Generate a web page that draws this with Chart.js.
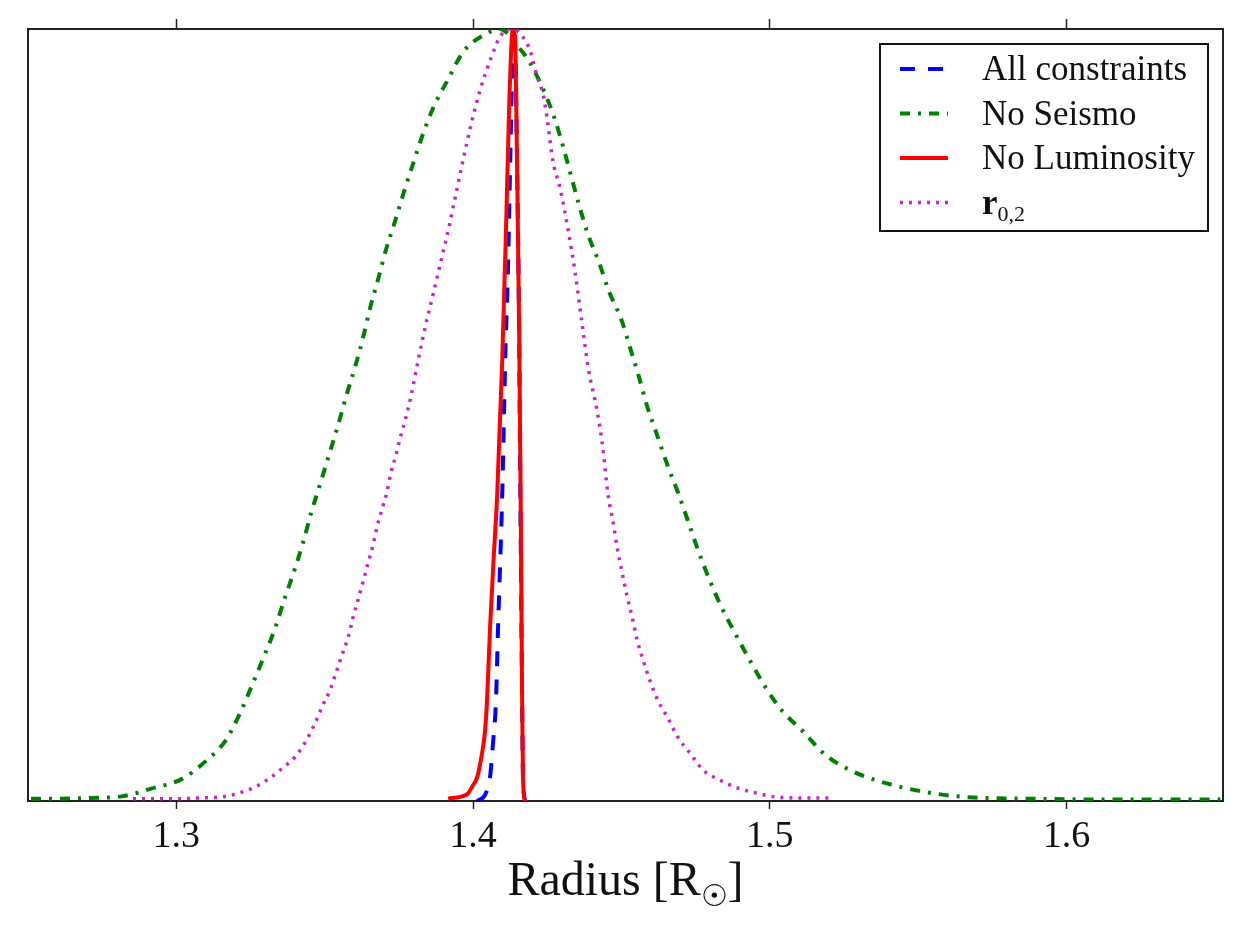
<!DOCTYPE html>
<html>
<head>
<meta charset="utf-8">
<script src="https://cdn.jsdelivr.net/npm/chart.js@4.4.1/dist/chart.umd.min.js"></script>
<style>
  html, body { margin: 0; padding: 0; background: #fff; }
  #wrap { width: 1250px; height: 938px; position: relative; }
</style>
</head>
<body>
<div id="wrap"><canvas id="radiusChart"></canvas></div>
<script>
// values (radius in solar radii, normalised density)
var seriesLabels = ["All constraints", "No Seismo", "No Luminosity", "r_{0,2}"]
var xTicks = [1.3, 1.4, 1.5, 1.6]
var xMin = 1.25
var xMax = 1.6527
var xTitle = "Radius [R_{\u2609}]"

var allR = [1.4013, 1.4023, 1.4040, 1.4057, 1.4067, 1.4077, 1.4084, 1.4098, 1.4108, 1.4118, 1.4125, 1.4131, 1.4135, 1.4138, 1.4141, 1.4148, 1.4155, 1.4158, 1.4165, 1.4168, 1.4175]
var allP = [0.0, 0.002, 0.008, 0.031, 0.075, 0.130, 0.224, 0.396, 0.570, 0.700, 0.829, 0.937, 0.976, 1.0, 0.990, 0.829, 0.613, 0.450, 0.137, 0.030, 0.0]

var seismoR = [1.2510, 1.2611, 1.2712, 1.2817, 1.2915, 1.3016, 1.3097, 1.3167, 1.3215, 1.3255, 1.3295, 1.3332, 1.3363, 1.3397, 1.3427, 1.3454, 1.3484, 1.3515, 1.3545, 1.3572, 1.3602, 1.3629, 1.3653, 1.3680, 1.3707, 1.3737, 1.3767, 1.3798, 1.3831, 1.3868, 1.3916, 1.3966, 1.4050, 1.4090,
  1.4158, 1.4189, 1.4236, 1.4273, 1.4303, 1.4330, 1.4357, 1.4387, 1.4424, 1.4458, 1.4499, 1.4529, 1.4559, 1.4586, 1.4620, 1.4654, 1.4691, 1.4724, 1.4758, 1.4795, 1.4836, 1.4883, 1.4933, 1.4984, 1.5041, 1.5112, 1.5186, 1.5270, 1.5365, 1.5466, 1.5567, 1.5668, 1.5877, 1.6113, 1.6518]
var seismoP = [0.003, 0.003, 0.004, 0.006, 0.016, 0.028, 0.051, 0.079, 0.114, 0.150, 0.187, 0.223, 0.260, 0.298, 0.335, 0.373, 0.410, 0.449, 0.487, 0.524, 0.562, 0.600, 0.639, 0.676, 0.715, 0.751, 0.789, 0.826, 0.864, 0.900, 0.935, 0.970, 0.995, 1.0,
  0.974, 0.958, 0.922, 0.886, 0.848, 0.810, 0.772, 0.734, 0.698, 0.660, 0.624, 0.587, 0.549, 0.512, 0.474, 0.436, 0.399, 0.363, 0.325, 0.288, 0.252, 0.217, 0.182, 0.148, 0.117, 0.090, 0.060, 0.040, 0.026, 0.016, 0.009, 0.005, 0.003, 0.002, 0.002]

var lumR = [1.3916, 1.3963, 1.3983, 1.3999, 1.4013, 1.4027, 1.4040, 1.4047, 1.4057, 1.4070, 1.4081, 1.4098, 1.4111, 1.4121, 1.4131, 1.4135, 1.4141, 1.4148, 1.4155, 1.4160, 1.4165, 1.4168, 1.4175]
var lumP = [0.003, 0.006, 0.010, 0.020, 0.030, 0.055, 0.090, 0.131, 0.224, 0.320, 0.396, 0.570, 0.742, 0.894, 0.992, 1.0, 0.990, 0.829, 0.613, 0.400, 0.137, 0.030, 0.0]

var r02R = [1.2854, 1.3006, 1.3083, 1.3147, 1.3208, 1.3265, 1.3316, 1.3359, 1.3400, 1.3434, 1.3464, 1.3491, 1.3518, 1.3538, 1.3558, 1.3579, 1.3595, 1.3612, 1.3629, 1.3646, 1.3663, 1.3676, 1.3693, 1.3710, 1.3723, 1.3740, 1.3754, 1.3771, 1.3791, 1.3814, 1.3838, 1.3865, 1.3892, 1.3919, 1.3943, 1.3966, 1.3993, 1.4023, 1.4061, 1.4094, 1.4135,
  1.4165, 1.4192, 1.4216, 1.4236, 1.4249, 1.4269, 1.4293, 1.4320, 1.4344, 1.4367, 1.4388, 1.4418, 1.4435, 1.4455, 1.4472, 1.4485, 1.4502, 1.4519, 1.4536, 1.4553, 1.4573, 1.4596, 1.4623, 1.4657, 1.4691, 1.4731, 1.4775, 1.4832, 1.4890, 1.4957, 1.5024, 1.5102, 1.5210]
var r02P = [0.003, 0.003, 0.004, 0.005, 0.010, 0.018, 0.030, 0.043, 0.057, 0.076, 0.098, 0.122, 0.144, 0.166, 0.189, 0.212, 0.237, 0.260, 0.284, 0.308, 0.332, 0.355, 0.378, 0.401, 0.425, 0.448, 0.470, 0.493, 0.525, 0.569, 0.613, 0.656, 0.700, 0.744, 0.788, 0.830, 0.876, 0.920, 0.963, 0.992, 1.0,
  0.991, 0.972, 0.938, 0.915, 0.885, 0.829, 0.794, 0.740, 0.684, 0.619, 0.561, 0.505, 0.464, 0.396, 0.361, 0.329, 0.296, 0.265, 0.238, 0.208, 0.182, 0.156, 0.130, 0.107, 0.082, 0.062, 0.040, 0.027, 0.017, 0.010, 0.005, 0.004, 0.004]

var serifFont = '"Liberation Serif", "DejaVu Serif", "DejaVu Sans", serif'

function toPoints(xs, ys) {
  var pts = []
  for (var i = 0; i < xs.length; i++) {
    pts.push({ x: xs[i], y: ys[i] })
  }
  return pts
}

// "a_{b}c" -> pieces with a subscript flag
function splitSub(text) {
  var parts = []
  var re = /_\{([^}]*)\}/g
  var last = 0
  var m
  while ((m = re.exec(text)) !== null) {
    if (m.index > last) parts.push({ t: text.slice(last, m.index), sub: false })
    parts.push({ t: m[1], sub: true })
    last = re.lastIndex
  }
  if (last < text.length) parts.push({ t: text.slice(last), sub: false })
  return parts
}

// math-style labels (with a subscript) get a bold main symbol, like the original
function drawRichText(ctx, text, x, y, size, align, boldMath) {
  var parts = splitSub(text)
  var hasSub = parts.some(function (p) { return p.sub })
  var subSize = Math.round(size * 0.62)
  var total = 0
  parts.forEach(function (p) {
    p.font = (p.sub ? subSize + "px " : (boldMath && hasSub ? "bold " : "") + size + "px ") + serifFont
    ctx.font = p.font
    p.w = ctx.measureText(p.t).width
    total += p.w
  })
  var cx = align === "center" ? x - total / 2 : x
  ctx.textAlign = "left"
  ctx.textBaseline = "alphabetic"
  parts.forEach(function (p) {
    ctx.font = p.font
    ctx.fillText(p.t, cx, p.sub ? y + size * 0.22 : y)
    cx += p.w
  })
}

var legendBox = {
  id: "legendBox",
  afterDraw: function (chart) {
    var ctx = chart.ctx
    var area = chart.chartArea
    var boxW = 328
    var boxH = 187
    var bx = area.right - 15 - boxW
    var by = area.top + 15
    ctx.save()
    ctx.fillStyle = "#fff"
    ctx.fillRect(bx, by, boxW, boxH)
    ctx.strokeStyle = "#111"
    ctx.lineWidth = 2
    ctx.strokeRect(bx, by, boxW, boxH)
    chart.data.datasets.forEach(function (ds, i) {
      var cy = by + 25 + i * 44.5
      ctx.beginPath()
      ctx.setLineDash(ds.borderDash || [])
      ctx.lineCap = "butt"
      ctx.strokeStyle = ds.borderColor
      ctx.lineWidth = ds.borderWidth
      ctx.moveTo(bx + 20, cy)
      ctx.lineTo(bx + 68, cy)
      ctx.stroke()
      ctx.setLineDash([])
      ctx.fillStyle = "#111"
      drawRichText(ctx, ds.label, bx + 102, cy + 11, 35, "left", true)
    })
    ctx.restore()
  }
}

var axisTitle = {
  id: "axisTitle",
  afterDraw: function (chart) {
    var ctx = chart.ctx
    var area = chart.chartArea
    ctx.save()
    ctx.fillStyle = "#111"
    drawRichText(ctx, xTitle, (area.left + area.right) / 2, area.bottom + 94, 48, "center", false)
    ctx.restore()
  }
}

var lineDefaults = {
  showLine: true,
  fill: false,
  pointRadius: 0,
  pointHoverRadius: 0,
  cubicInterpolationMode: "monotone",
  borderCapStyle: "butt",
  xAxisID: "x",
  yAxisID: "y",
}

var datasets = [
  Object.assign({ label: seriesLabels[0], data: toPoints(allR, allP), borderColor: "#0000ff", borderWidth: 4, borderDash: [15, 13], order: 4 }, lineDefaults),
  Object.assign({ label: seriesLabels[1], data: toPoints(seismoR, seismoP), borderColor: "#008000", borderWidth: 4, borderDash: [10, 8, 3, 8], order: 3 }, lineDefaults),
  Object.assign({ label: seriesLabels[2], data: toPoints(lumR, lumP), borderColor: "#ff0000", borderWidth: 4, borderDash: [], order: 2 }, lineDefaults),
  Object.assign({ label: seriesLabels[3], data: toPoints(r02R, r02P), borderColor: "#cc22cc", borderWidth: 3.5, borderDash: [3, 6], order: 1 }, lineDefaults),
]

function setTicks(scale) {
  scale.ticks = xTicks.map(function (v) { return { value: v } })
}

var borderOpts = { display: true, color: "#222", width: 2 }

new Chart(document.getElementById("radiusChart"), {
  type: "scatter",
  data: { datasets: datasets },
  options: {
    responsive: true,
    maintainAspectRatio: false,
    animation: false,
    layout: { padding: 0 },
    plugins: {
      legend: { display: false },
      tooltip: { enabled: false },
      title: { display: false },
    },
    scales: {
      x: {
        type: "linear",
        position: "bottom",
        min: xMin,
        max: xMax,
        afterBuildTicks: setTicks,
        afterFit: function (s) { s.height = 137 },
        ticks: {
          color: "#111",
          padding: 5,
          maxRotation: 0,
          font: { family: serifFont, size: 38 },
          callback: function (v) { return v.toFixed(1) },
        },
        grid: { drawOnChartArea: false, drawTicks: true, tickLength: 8, tickWidth: 1.5, tickColor: "#222" },
        border: borderOpts,
      },
      xTop: {
        type: "linear",
        position: "top",
        min: xMin,
        max: xMax,
        afterBuildTicks: setTicks,
        afterFit: function (s) { s.height = 29 },
        ticks: { display: false },
        grid: { drawOnChartArea: false, drawTicks: true, tickLength: 10, tickWidth: 1.5, tickColor: "#222" },
        border: borderOpts,
      },
      y: {
        type: "linear",
        position: "left",
        min: 0,
        max: 1,
        afterFit: function (s) { s.width = 28 },
        ticks: { display: false },
        grid: { display: false },
        border: borderOpts,
      },
      yRight: {
        type: "linear",
        position: "right",
        min: 0,
        max: 1,
        afterFit: function (s) { s.width = 27 },
        ticks: { display: false },
        grid: { display: false },
        border: borderOpts,
      },
    },
  },
  plugins: [legendBox, axisTitle],
})
</script>
</body>
</html>
